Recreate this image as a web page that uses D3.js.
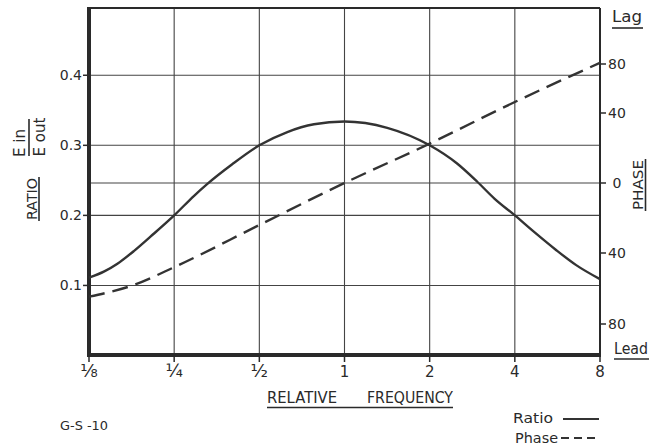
<!DOCTYPE html>
<html>
<head>
<meta charset="utf-8">
<script src="https://cdn.jsdelivr.net/npm/d3@7"></script>
<style>
  html, body { margin: 0; padding: 0; background: #ffffff; }
  svg { display: block; }
  text { font-family: "DejaVu Sans", sans-serif; fill: #2a2a2a; }
</style>
</head>
<body>
<svg id="chart" width="658" height="445"></svg>
<script>
// ---- data ----
const ratioFreq   = [0.125, 0.1416, 0.1575, 0.18, 0.2066, 0.25, 0.294, 0.3276, 0.401, 0.5, 0.628, 0.78, 1, 1.416, 2, 2.5, 2.946, 3.387, 4, 4.724, 5.58, 6.59, 8];
const ratioValues = [0.111, 0.120, 0.131, 0.149, 0.170, 0.200, 0.228, 0.245, 0.273, 0.300, 0.319, 0.330, 0.334, 0.325, 0.300, 0.274, 0.248, 0.224, 0.200, 0.175, 0.151, 0.129, 0.109];
const phaseFreq   = [0.125, 0.18, 0.25, 0.5, 1, 2, 4, 8];
const phaseValues = [-64.6, -58, -48, -24, 0, 22.5, 49, 81];
const xTickValues = [0.125, 0.25, 0.5, 1, 2, 4, 8];
const xTickLabels = ["⅛", "¼", "½", "1", "2", "4", "8"];
const ratioTicks  = [0.1, 0.2, 0.3, 0.4];
const ratioTickLabels = ["0.1", "0.2", "0.3", "0.4"];
const phaseTicks  = [80, 40, 0, -40, -80];
const phaseTickLabels = ["80", "40", "0", "40", "80"];

(function () {
const svg = d3.select("#chart");
const ink = "#2a2a2a";

const x = d3.scaleLog().base(2).domain([0.125, 8]).range([89, 600]);
const yR = d3.scaleLinear().domain([0, 0.496]).range([355.5, 8]);
const yP = d3.scaleLinear().domain([-80, -40, 0, 40, 80]).range([324, 253, 183, 113, 64]);

const pLeft = x(0.125), pRight = x(8), pTop = yR(0.496), pBottom = 355;

// gridlines
const grid = svg.append("g").attr("stroke", "#444").attr("stroke-width", 1.1);
grid.selectAll("line.v").data(xTickValues.slice(1, -1)).join("line")
  .attr("x1", d => x(d)).attr("x2", d => x(d)).attr("y1", pTop).attr("y2", pBottom);
grid.selectAll("line.h").data(ratioTicks).join("line")
  .attr("x1", pLeft).attr("x2", pRight).attr("y1", d => yR(d)).attr("y2", d => yR(d));
grid.append("line").attr("x1", pLeft).attr("x2", pRight).attr("y1", yP(0)).attr("y2", yP(0));

// frame
svg.append("line").attr("x1", pLeft).attr("x2", pRight).attr("y1", pTop).attr("y2", pTop)
  .attr("stroke", ink).attr("stroke-width", 2);
svg.append("line").attr("x1", pRight).attr("x2", pRight).attr("y1", pTop).attr("y2", pBottom)
  .attr("stroke", ink).attr("stroke-width", 2);
svg.append("line").attr("x1", pLeft).attr("x2", pLeft).attr("y1", pTop - 1).attr("y2", pBottom + 2)
  .attr("stroke", ink).attr("stroke-width", 4);
svg.append("line").attr("x1", pLeft - 2).attr("x2", pRight + 1).attr("y1", pBottom).attr("y2", pBottom)
  .attr("stroke", ink).attr("stroke-width", 4);

// left axis
const gl = svg.append("g");
gl.selectAll("line").data(ratioTicks).join("line")
  .attr("x1", pLeft - 6).attr("x2", pLeft).attr("y1", d => yR(d)).attr("y2", d => yR(d))
  .attr("stroke", ink).attr("stroke-width", 1.5);
gl.selectAll("text").data(ratioTicks).join("text")
  .attr("x", 82).attr("y", d => yR(d) + 5).attr("text-anchor", "end")
  .attr("font-size", 14).text((d, i) => ratioTickLabels[i]);

// right axis
const gr = svg.append("g");
gr.selectAll("line").data(phaseTicks).join("line")
  .attr("x1", pRight).attr("x2", pRight + 6).attr("y1", d => yP(d)).attr("y2", d => yP(d))
  .attr("stroke", ink).attr("stroke-width", 1.5);
gr.selectAll("text").data(phaseTicks).join("text")
  .attr("x", 617).attr("y", d => yP(d) + 5).attr("text-anchor", "middle")
  .attr("font-size", 14).text((d, i) => phaseTickLabels[i]);

// bottom axis
const gb = svg.append("g");
gb.selectAll("line").data(xTickValues).join("line")
  .attr("x1", d => x(d)).attr("x2", d => x(d)).attr("y1", pBottom).attr("y2", pBottom + 7)
  .attr("stroke", ink).attr("stroke-width", 1.5);
gb.selectAll("text").data(xTickValues).join("text")
  .attr("x", d => x(d)).attr("y", 377).attr("text-anchor", "middle")
  .attr("font-size", (d, i) => /[⅛¼½]/.test(xTickLabels[i]) ? 18 : 15)
  .text((d, i) => xTickLabels[i]);

// curves
const lineR = d3.line().x(d => x(d[0])).y(d => yR(d[1])).curve(d3.curveMonotoneX);
const lineP = d3.line().x(d => x(d[0])).y(d => yP(d[1])).curve(d3.curveMonotoneX);
svg.append("path").attr("d", lineR(ratioFreq.map((f, i) => [f, ratioValues[i]])))
  .attr("fill", "none").attr("stroke", "#333").attr("stroke-width", 2.4);
svg.append("path").attr("d", lineP(phaseFreq.map((f, i) => [f, phaseValues[i]])))
  .attr("fill", "none").attr("stroke", "#333").attr("stroke-width", 2.4)
  .attr("stroke-dasharray", "16,8");

// axis titles
function underline(x1, x2, y, w) {
  svg.append("line").attr("x1", x1).attr("x2", x2).attr("y1", y).attr("y2", y)
    .attr("stroke", ink).attr("stroke-width", w || 1.6);
}
svg.append("text").attr("x", 267).attr("y", 403).attr("font-size", 15)
  .attr("textLength", 70).attr("lengthAdjust", "spacingAndGlyphs").text("RELATIVE");
svg.append("text").attr("x", 367).attr("y", 403).attr("font-size", 15)
  .attr("textLength", 86).attr("lengthAdjust", "spacingAndGlyphs").text("FREQUENCY");
underline(267, 453, 407.5);

// RATIO (rotated)
const gy = svg.append("g").attr("transform", "translate(37,199) rotate(-90)");
gy.append("text").attr("x", 0).attr("y", 0).attr("text-anchor", "middle").attr("font-size", 14)
  .attr("textLength", 42).attr("lengthAdjust", "spacingAndGlyphs").text("RATIO");
gy.append("line").attr("x1", -22).attr("x2", 22).attr("y1", 2).attr("y2", 2)
  .attr("stroke", ink).attr("stroke-width", 1.6);

// E in / E out fraction
const gf = svg.append("g").attr("transform", "translate(29,137) rotate(-90)");
gf.append("text").attr("x", -6).attr("y", -4).attr("text-anchor", "middle").attr("font-size", 15).text("E in");
gf.append("line").attr("x1", -19).attr("x2", 18).attr("y1", 0).attr("y2", 0)
  .attr("stroke", ink).attr("stroke-width", 1.6);
gf.append("text").attr("x", 0).attr("y", 16).attr("text-anchor", "middle").attr("font-size", 15).text("E out");

// PHASE (rotated)
const gp = svg.append("g").attr("transform", "translate(643,185) rotate(-90)");
gp.append("text").attr("x", 0).attr("y", 0).attr("text-anchor", "middle").attr("font-size", 14)
  .attr("textLength", 50).attr("lengthAdjust", "spacingAndGlyphs").text("PHASE");
gp.append("line").attr("x1", -26).attr("x2", 26).attr("y1", 2.5).attr("y2", 2.5)
  .attr("stroke", ink).attr("stroke-width", 1.6);

// Lag / Lead
svg.append("text").attr("x", 612).attr("y", 22).attr("font-size", 15)
  .attr("textLength", 30).attr("lengthAdjust", "spacingAndGlyphs").text("Lag");
underline(612, 643, 28);
svg.append("text").attr("x", 614).attr("y", 354).attr("font-size", 15)
  .attr("textLength", 34).attr("lengthAdjust", "spacingAndGlyphs").text("Lead");
underline(614, 649, 359);

// figure id
svg.append("text").attr("x", 60).attr("y", 430).attr("font-size", 12)
  .attr("textLength", 48).attr("lengthAdjust", "spacingAndGlyphs").text("G-S -10");

// legend
svg.append("text").attr("x", 513).attr("y", 423).attr("font-size", 14)
  .attr("textLength", 40).attr("lengthAdjust", "spacingAndGlyphs").text("Ratio");
svg.append("line").attr("x1", 563).attr("x2", 599).attr("y1", 419).attr("y2", 419)
  .attr("stroke", "#333").attr("stroke-width", 2.2);
svg.append("text").attr("x", 515).attr("y", 443).attr("font-size", 14)
  .attr("textLength", 43).attr("lengthAdjust", "spacingAndGlyphs").text("Phase");
svg.append("line").attr("x1", 561).attr("x2", 600).attr("y1", 438).attr("y2", 438)
  .attr("stroke", "#333").attr("stroke-width", 2.2).attr("stroke-dasharray", "8,5");
})();
</script>
</body>
</html>
